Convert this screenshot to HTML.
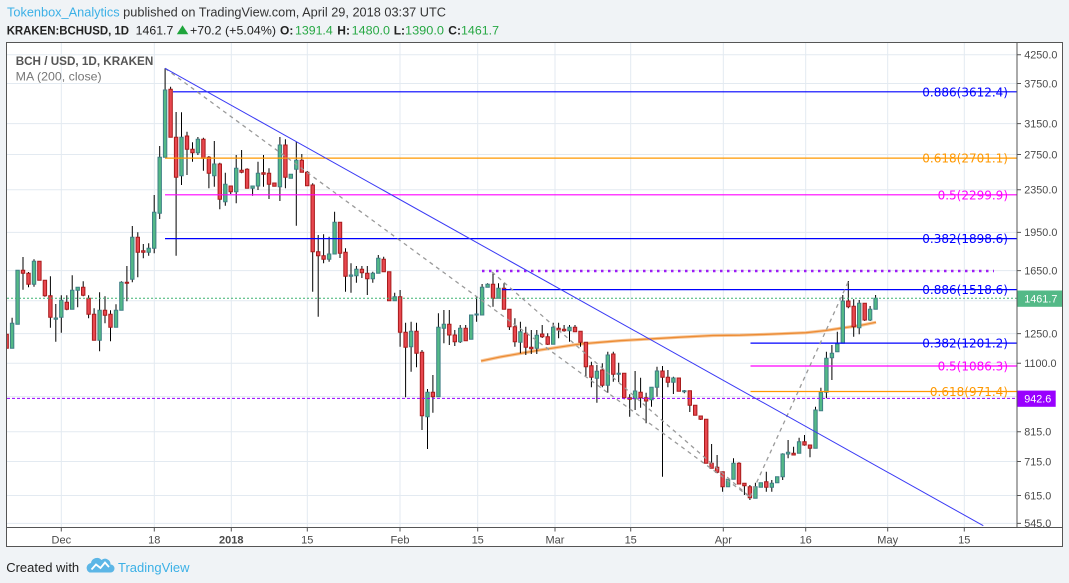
<!DOCTYPE html>
<html><head><meta charset="utf-8"><style>
html,body{margin:0;padding:0;background:#f0f3f6;}
svg{display:block;}
text{font-family:"Liberation Sans",Arial,sans-serif;}
.fib{font-family:"DejaVu Sans","Liberation Sans",sans-serif;font-size:12px;text-anchor:end;}
.pl{font-size:10.8px;fill:#4a4a4a;}
.tl{font-size:11px;fill:#4a4a4a;text-anchor:middle;}
</style></head><body>
<svg width="1069" height="583" viewBox="0 0 1069 583" xmlns="http://www.w3.org/2000/svg">
<defs>
<clipPath id="plot"><rect x="7" y="43" width="1010" height="484"/></clipPath>
<clipPath id="pax"><rect x="1017" y="43" width="46" height="484"/></clipPath>
</defs>
<rect width="1069" height="583" fill="#f0f3f6"/>
<!-- header -->
<text x="7" y="16.7" font-size="13" textLength="439" lengthAdjust="spacingAndGlyphs"><tspan fill="#3bb0e6">Tokenbox_Analytics</tspan><tspan fill="#333"> published on TradingView.com, April 29, 2018 03:37 UTC</tspan></text>
<g font-size="12" fill="#222">
<text x="6.7" y="34.3" font-weight="bold" textLength="122.3" lengthAdjust="spacingAndGlyphs">KRAKEN:BCHUSD, 1D</text>
<text x="135.7" y="34.3" textLength="37.6" lengthAdjust="spacingAndGlyphs">1461.7</text>
<polygon points="176.8,34.3 188.3,34.3 182.5,25.2" fill="#1ea53c"/>
<text x="190" y="34.3" textLength="86" lengthAdjust="spacingAndGlyphs">+70.2 (+5.04%)</text>
<text x="280" y="34.3" font-weight="bold">O:</text>
<text x="295" y="34.3" fill="#27a844" textLength="37.7" lengthAdjust="spacingAndGlyphs">1391.4</text>
<text x="337.3" y="34.3" font-weight="bold">H:</text>
<text x="351.7" y="34.3" fill="#27a844" textLength="38.3" lengthAdjust="spacingAndGlyphs">1480.0</text>
<text x="393.7" y="34.3" font-weight="bold">L:</text>
<text x="405" y="34.3" fill="#27a844" textLength="39" lengthAdjust="spacingAndGlyphs">1390.0</text>
<text x="448.3" y="34.3" font-weight="bold">C:</text>
<text x="461" y="34.3" fill="#27a844" textLength="38" lengthAdjust="spacingAndGlyphs">1461.7</text>
</g>
<!-- chart frame -->
<rect x="6.5" y="42.5" width="1056" height="504" fill="#fff"/>
<!-- grid -->
<g stroke="#e3eaf1" stroke-width="1">
<path d="M7 54.7H1017M7 83.5H1017M7 123.6H1017M7 154.5H1017M7 189.8H1017M7 232.4H1017M7 270.6H1017M7 300.7H1017M7 333.6H1017M7 363.2H1017M7 396.6H1017M7 431.8H1017M7 461.5H1017M7 495.5H1017M7 523.4H1017"/>
<path d="M61.3 43V527M154.3 43V527M231.3 43V527M307.3 43V527M400 43V527M477.7 43V527M555 43V527M630.7 43V527M723.3 43V527M805.7 43V527M887.7 43V527M964.3 43V527"/>
</g>
<g clip-path="url(#plot)">
<!-- MA 200 -->
<polyline points="481,361 500,357 520,353.5 540,350 560,347 580,344 600,342.3 620,340.7 646,339.2 680,337.2 713,335.5 740,335.2 770,334.2 806,332.7 825,330.6 840,328.3 860,325.5 876,322.3" fill="none" stroke="#f6b57a" stroke-width="3.2" stroke-opacity="0.75"/>
<polyline points="481,361 500,357 520,353.5 540,350 560,347 580,344 600,342.3 620,340.7 646,339.2 680,337.2 713,335.5 740,335.2 770,334.2 806,332.7 825,330.6 840,328.3 860,325.5 876,322.3" fill="none" stroke="#ec8c35" stroke-width="1.3"/>
<!-- wicks -->
<path fill="none" stroke="#000" stroke-width="1" d="M6.65,334.3V348.3M12.1,317.7V348.3M17.6,270.3V324.3M23,257V289.7M28.5,272V287.3M34,259.3V286.7M39.4,261.3V280.3M44.9,280.3V296.7M50.4,276.3V327.7M55.8,304V341.7M61.3,295.3V332.7M66.8,295.3V310.3M72.2,275.3V309.3M77.7,287.3V307.3M83.2,281.3V296.3M88.6,295.3V318.3M94.1,308.3V340.3M99.6,292.3V351.3M105,296.3V323.3M110.5,310.3V341.3M116,304.3V327.3M121.4,281.3V310.3M126.9,266V301.3M132.3,226V282.3M137.8,232.3V277.3M143.3,244V258.3M148.7,243.3V255.7M154.2,195V253.3M159.7,146V219M165.1,68.3V157.3M170.6,86.7V137.3M176.1,112V255.7M181.5,112.3V185M187,131.7V175M192.5,142.3V161.7M197.9,137V155M203.4,137.7V170.7M208.9,156V188.3M214.3,141V186.7M219.8,162.7V209.3M225.3,172.7V205.7M230.7,186V194M236.2,155V203.3M241.6,150V173.3M247.1,168.3V188.3M252.6,186V195.7M258,161.7V190M263.5,155V186.7M269,168.3V199M274.4,183V186.3M279.9,137V201M285.4,139.3V188.3M290.8,174.3V178.3M296.3,141.5V225.7M301.8,154V172.3M307.2,171V185.7M312.7,183.3V291.7M318.2,235V316.7M323.6,234.3V263.3M329.1,236.7V261.7M334.6,211.7V254M340,222.3V258M345.5,248.3V291.7M351,263.3V292.7M356.4,266V282.7M361.9,266V278M367.3,266V295M372.8,271.7V282.7M378.3,255V273.3M383.7,256.7V271.7M389.2,271.7V300.7M394.7,292.7V300.7M400.1,290V346.7M405.6,322.7V397.3M411.1,321.7V371.7M416.5,322.7V367.3M422,350V430M427.5,389V449M432.9,375V412.7M438.4,313.3V396.7M443.9,310V343.3M449.3,310V345M454.8,330V346M460.2,325V343M465.7,325V340.7M471.2,315V339.3M476.6,296.7V321.7M482.1,284V315M487.6,283.3V287.3M493,272.3V306.7M498.5,283.3V298.3M504,283.3V309.3M509.4,309.3V330M514.9,318.3V346.7M520.4,321.7V353.3M525.8,326.7V355M531.3,330V354M536.8,330V354M542.2,325V338M547.7,333.3V345M553.2,322.7V344.3M558.6,322.7V338.3M564.1,325V331.7M569.5,325V341.7M575,325V331.7M580.5,331.3V346.7M585.9,342.3V376M591.4,361.7V387.3M596.9,365V402.7M602.3,363.3V387.3M607.8,351.7V392.7M613.3,351.7V381.7M618.7,362.7V382M624.2,373.3V399.3M629.7,394.3V416.7M635.1,371V410M640.6,377.7V407.7M646.1,392.7V423.3M651.5,387.3V406.7M657,366.7V396.7M662.5,366V476.7M667.9,370V387.3M673.4,376.7V394M678.8,378V391.3M684.3,390V393.3M689.8,390.7V412M695.2,405.3V415.3M700.7,416V420M706.2,419.3V463.3M711.6,444V468.3M717.1,455V473.3M722.6,471.7V491.7M728,479.3V486.7M733.5,458.3V479.3M739,462.3V484M744.4,483.3V495M749.9,485V500M755.4,482.7V498.3M760.8,482.7V487.3M766.3,471.7V491.7M771.8,480V491.7M777.2,476.7V482.7M782.7,453.3V480M788.1,440V458.3M793.6,446.7V455M799.1,437.7V453.3M804.5,435V445.7M810,445V457.3M815.5,406.7V448.3M820.9,387.7V410.7M826.4,351.7V398.3M831.9,345V380M837.3,331.7V351.7M842.8,295V343.3M848.3,281V308.3M853.7,299.3V336.7M859.2,300V334.3M864.7,303.3V321M870.1,306V321M875.6,295V309.3"/>
<!-- green bodies -->
<path fill="#53b987" stroke="#3f7f86" stroke-width="1" d="M10.4 323.3h3.4V348.3h-3.4zM15.9 270.3h3.4V324.3h-3.4zM32.3 261.3h3.4V284.3h-3.4zM54.1 318h3.4V319.3h-3.4zM59.6 300.3h3.4V317.3h-3.4zM70.5 290.3h3.4V309.3h-3.4zM76 287.3h3.4V290.3h-3.4zM97.9 310.3h3.4V340.3h-3.4zM114.3 310.3h3.4V327.3h-3.4zM119.7 282.3h3.4V310.3h-3.4zM130.6 237.3h3.4V279.3h-3.4zM147 248.3h3.4V252.3h-3.4zM152.5 212.3h3.4V248.3h-3.4zM158 157.3h3.4V213.3h-3.4zM163.4 90h3.4V157.3h-3.4zM179.8 137.3h3.4V175.7h-3.4zM196.2 139.3h3.4V152.7h-3.4zM212.6 164h3.4V175.7h-3.4zM223.6 184.3h3.4V201.7h-3.4zM234.5 168.3h3.4V191.7h-3.4zM250.9 186h3.4V188.3h-3.4zM256.3 173.3h3.4V186h-3.4zM278.2 145h3.4V186.7h-3.4zM289.1 174.3h3.4V178.3h-3.4zM294.6 160.3h3.4V169.3h-3.4zM327.4 254h3.4V259.3h-3.4zM332.9 222.3h3.4V254h-3.4zM349.3 275h3.4V276.3h-3.4zM354.7 269.3h3.4V275.7h-3.4zM371.1 273.3h3.4V278.7h-3.4zM376.6 258.3h3.4V273.3h-3.4zM393 296.7h3.4V300.7h-3.4zM409.4 331.3h3.4V346.7h-3.4zM425.8 392.3h3.4V416.7h-3.4zM436.7 327.3h3.4V396.7h-3.4zM442.2 324.3h3.4V328.3h-3.4zM458.5 328.3h3.4V341.7h-3.4zM469.5 315h3.4V339.3h-3.4zM474.9 314h3.4V315h-3.4zM480.4 287.3h3.4V315h-3.4zM485.9 284.3h3.4V287.3h-3.4zM496.8 288.3h3.4V298.3h-3.4zM518.7 331.7h3.4V342.3h-3.4zM535.1 335.3h3.4V348.3h-3.4zM551.5 327.3h3.4V344.3h-3.4zM567.8 327.3h3.4V330.7h-3.4zM595.2 371.3h3.4V378.3h-3.4zM606.1 355h3.4V385.3h-3.4zM617 373.3h3.4V374.3h-3.4zM633.4 391h3.4V398.7h-3.4zM649.8 387.3h3.4V399.7h-3.4zM655.3 371h3.4V387.3h-3.4zM671.7 378h3.4V382.3h-3.4zM682.6 390.7h3.4V391.7h-3.4zM726.3 479.3h3.4V486.7h-3.4zM731.8 463.3h3.4V479.3h-3.4zM753.7 486.7h3.4V498.3h-3.4zM759.1 482.7h3.4V487.3h-3.4zM770.1 483.3h3.4V487.3h-3.4zM775.5 476.7h3.4V482.7h-3.4zM781 454h3.4V476.7h-3.4zM786.4 452.3h3.4V454h-3.4zM797.4 441.7h3.4V453.3h-3.4zM813.8 410h3.4V448.3h-3.4zM819.2 392.3h3.4V410.7h-3.4zM824.7 358.3h3.4V392.3h-3.4zM830.2 353.3h3.4V357.7h-3.4zM835.6 344h3.4V351.7h-3.4zM841.1 301h3.4V343.3h-3.4zM857.5 303.3h3.4V327.7h-3.4zM868.4 309.3h3.4V320h-3.4zM873.9 298.3h3.4V309.3h-3.4z"/>
<!-- red bodies -->
<path fill="#e8474f" stroke="#a81b1b" stroke-width="1" d="M4.95 334.3h3.4V348.3h-3.4zM21.3 270.3h3.4V273.3h-3.4zM26.8 273.3h3.4V284.3h-3.4zM37.7 261.3h3.4V280.3h-3.4zM43.2 280.3h3.4V295.7h-3.4zM48.7 295.7h3.4V317.3h-3.4zM65.1 302.3h3.4V309.3h-3.4zM81.5 287.3h3.4V295.3h-3.4zM86.9 298.3h3.4V314.3h-3.4zM92.4 314.3h3.4V340.3h-3.4zM103.3 310.3h3.4V315.3h-3.4zM108.8 314.3h3.4V327.3h-3.4zM125.2 282.3h3.4V283.3h-3.4zM136.1 237.3h3.4V252.3h-3.4zM141.6 250.7h3.4V252.3h-3.4zM168.9 89.3h3.4V137.3h-3.4zM174.4 137.3h3.4V177.3h-3.4zM185.3 136h3.4V149.3h-3.4zM190.8 149.3h3.4V152.7h-3.4zM201.7 139.3h3.4V158.3h-3.4zM207.2 157.3h3.4V173.3h-3.4zM218.1 164h3.4V199.3h-3.4zM229 186h3.4V191.7h-3.4zM239.9 170.3h3.4V172.3h-3.4zM245.4 169.3h3.4V188.3h-3.4zM261.8 172.7h3.4V174.3h-3.4zM267.3 173.3h3.4V184.3h-3.4zM272.7 183h3.4V186.3h-3.4zM283.7 145h3.4V177.3h-3.4zM300.1 160.3h3.4V172.3h-3.4zM305.5 172.3h3.4V185.7h-3.4zM311 185h3.4V251.7h-3.4zM316.5 251.7h3.4V255.7h-3.4zM321.9 255.7h3.4V259.3h-3.4zM338.3 222.3h3.4V253.3h-3.4zM343.8 252.3h3.4V276.3h-3.4zM360.2 269.3h3.4V272.7h-3.4zM365.6 273.3h3.4V278.7h-3.4zM382 259.3h3.4V271.7h-3.4zM387.5 271.7h3.4V300.7h-3.4zM398.4 296.7h3.4V332.3h-3.4zM403.9 332.3h3.4V347.3h-3.4zM414.8 331.3h3.4V353.3h-3.4zM420.3 352.3h3.4V415.7h-3.4zM431.2 392.3h3.4V396.7h-3.4zM447.6 324.3h3.4V335h-3.4zM453.1 335h3.4V341.7h-3.4zM464 328.3h3.4V340.7h-3.4zM491.3 284.3h3.4V298.3h-3.4zM502.3 288.3h3.4V309.3h-3.4zM507.7 309.3h3.4V326.7h-3.4zM513.2 326.7h3.4V341.7h-3.4zM524.1 333.3h3.4V347.3h-3.4zM529.6 347.3h3.4V348.7h-3.4zM540.5 334h3.4V336.7h-3.4zM546 336.7h3.4V344.3h-3.4zM556.9 328.3h3.4V330h-3.4zM562.4 329.3h3.4V330.7h-3.4zM573.3 327.3h3.4V331.7h-3.4zM578.8 331.3h3.4V342.3h-3.4zM584.2 342.3h3.4V366.7h-3.4zM589.7 365.7h3.4V377.3h-3.4zM600.6 370h3.4V385.3h-3.4zM611.6 354h3.4V374.3h-3.4zM622.5 373.3h3.4V397.7h-3.4zM628 397.7h3.4V399.3h-3.4zM638.9 392.3h3.4V397.7h-3.4zM644.4 397.7h3.4V401h-3.4zM660.8 371h3.4V377.3h-3.4zM666.2 377.3h3.4V382.3h-3.4zM677.1 378h3.4V391.3h-3.4zM688.1 390.7h3.4V405.3h-3.4zM693.5 405.3h3.4V415.3h-3.4zM699 416h3.4V419.3h-3.4zM704.5 419.3h3.4V463.3h-3.4zM709.9 463.3h3.4V468.3h-3.4zM715.4 467.3h3.4V472.3h-3.4zM720.9 471.7h3.4V486.7h-3.4zM737.3 463.3h3.4V484h-3.4zM742.7 483.3h3.4V485.7h-3.4zM748.2 486.7h3.4V497.7h-3.4zM764.6 481.7h3.4V487.3h-3.4zM791.9 453.3h3.4V455h-3.4zM802.8 441.7h3.4V445h-3.4zM808.3 445h3.4V448.3h-3.4zM846.6 301h3.4V306.7h-3.4zM852 306.3h3.4V326.7h-3.4zM863 303.3h3.4V320h-3.4z"/>
<!-- price lines -->
<line x1="7" y1="298.3" x2="1017" y2="298.3" stroke="#3cb371" stroke-width="1" stroke-dasharray="2,2"/>
<line x1="7" y1="398.4" x2="1017" y2="398.4" stroke="#9900ff" stroke-width="1" stroke-dasharray="3,2"/>
<line x1="482" y1="271" x2="994" y2="271" stroke="#9d1cf5" stroke-width="2.5" stroke-dasharray="2.5,4.5"/>
<!-- fib lines -->
<g stroke-width="1.2">
<line x1="173" y1="91.8" x2="1017" y2="91.8" stroke="#0000ff"/>
<line x1="165" y1="158.1" x2="1017" y2="158.1" stroke="#ff9800"/>
<line x1="165" y1="194.8" x2="1017" y2="194.8" stroke="#ff00ff"/>
<line x1="165" y1="238.6" x2="1017" y2="238.6" stroke="#0000ff"/>
<line x1="502" y1="289.6" x2="1017" y2="289.6" stroke="#0000ff"/>
<line x1="750.5" y1="343.1" x2="1017" y2="343.1" stroke="#0000ff"/>
<line x1="750.5" y1="366" x2="1017" y2="366" stroke="#ff00ff"/>
<line x1="750.5" y1="391.5" x2="1017" y2="391.5" stroke="#ff9800"/>
</g>
<!-- trend lines -->
<g fill="none" stroke="#9a9a9a" stroke-width="1.3" stroke-dasharray="4,4">
<line x1="165.1" y1="68.3" x2="750" y2="497"/>
<line x1="492" y1="272" x2="750" y2="497"/>
<line x1="750" y1="497" x2="848.3" y2="281.7"/>
</g>
<line x1="165.1" y1="68.3" x2="983.3" y2="525.7" stroke="#3a3af5" stroke-width="1"/>
<!-- fib labels -->
<text class="fib" x="1008" y="96.3" fill="#0000ff">0.886(3612.4)</text>
<text class="fib" x="1008" y="162.6" fill="#ff9800">0.618(2701.1)</text>
<text class="fib" x="1008" y="199.3" fill="#ff00ff">0.5(2299.9)</text>
<text class="fib" x="1008" y="243.1" fill="#0000ff">0.382(1898.6)</text>
<text class="fib" x="1008" y="294.1" fill="#0000ff">0.886(1518.6)</text>
<text class="fib" x="1008" y="347.6" fill="#0000ff">0.382(1201.2)</text>
<text class="fib" x="1008" y="370.5" fill="#ff00ff">0.5(1086.3)</text>
<text class="fib" x="1008" y="396" fill="#ff9800">0.618(971.4)</text>
<!-- legend -->
<text x="15.7" y="65" font-size="12" font-weight="bold" fill="#555" textLength="137.6" lengthAdjust="spacingAndGlyphs">BCH / USD, 1D, KRAKEN</text>
<text x="15.7" y="80.7" font-size="12" fill="#777" textLength="86" lengthAdjust="spacingAndGlyphs">MA (200, close)</text>
</g>
<!-- price axis -->
<g clip-path="url(#pax)">
<g stroke="#555" stroke-width="1">
<path d="M1017 54.7h4M1017 83.5h4M1017 123.6h4M1017 154.5h4M1017 189.8h4M1017 232.4h4M1017 270.6h4M1017 333.6h4M1017 363.2h4M1017 431.8h4M1017 461.5h4M1017 495.5h4M1017 523.4h4"/>
</g>
<text class="pl" x="1024.3" y="58.5">4250.0</text>
<text class="pl" x="1024.3" y="87.3">3750.0</text>
<text class="pl" x="1024.3" y="127.4">3150.0</text>
<text class="pl" x="1024.3" y="158.3">2750.0</text>
<text class="pl" x="1024.3" y="193.6">2350.0</text>
<text class="pl" x="1024.3" y="236.2">1950.0</text>
<text class="pl" x="1024.3" y="274.4">1650.0</text>
<text class="pl" x="1024.3" y="337.4">1250.0</text>
<text class="pl" x="1024.3" y="367">1100.0</text>
<text class="pl" x="1024.3" y="435.6">815.0</text>
<text class="pl" x="1024.3" y="465.3">715.0</text>
<text class="pl" x="1024.3" y="499.3">615.0</text>
<text class="pl" x="1024.3" y="527.2">545.0</text>
<rect x="1017" y="290.5" width="46" height="16.3" fill="#53b987"/>
<text x="1024.3" y="302.6" font-size="10.8" fill="#fff">1461.7</text>
<rect x="1017" y="390.6" width="38.7" height="16.2" fill="#9900ff"/>
<text x="1024.3" y="402.5" font-size="10.8" fill="#fff">942.6</text>
</g>
<!-- time axis -->
<g stroke="#555" stroke-width="1">
<path d="M61.3 527.5v4M154.3 527.5v4M231.3 527.5v4M307.3 527.5v4M400 527.5v4M477.7 527.5v4M555 527.5v4M630.7 527.5v4M723.3 527.5v4M805.7 527.5v4M887.7 527.5v4M964.3 527.5v4"/>
</g>
<text class="tl" x="61.3" y="543.4">Dec</text>
<text class="tl" x="154.3" y="543.4">18</text>
<text class="tl" x="231.3" y="543.4" font-weight="bold">2018</text>
<text class="tl" x="307.3" y="543.4">15</text>
<text class="tl" x="400" y="543.4">Feb</text>
<text class="tl" x="477.7" y="543.4">15</text>
<text class="tl" x="555" y="543.4">Mar</text>
<text class="tl" x="630.7" y="543.4">15</text>
<text class="tl" x="723.3" y="543.4">Apr</text>
<text class="tl" x="805.7" y="543.4">16</text>
<text class="tl" x="887.7" y="543.4">May</text>
<text class="tl" x="964.3" y="543.4">15</text>
<!-- frame lines -->
<g fill="none" stroke="#555" stroke-width="1">
<rect x="6.5" y="42.5" width="1056" height="504"/>
<line x1="1017" y1="42.5" x2="1017" y2="527.5"/>
<line x1="6.5" y1="527.5" x2="1062.5" y2="527.5"/>
</g>
<!-- footer -->
<text x="6.2" y="572" font-size="13" fill="#222">Created with</text>
<path d="M89.5 572.5h21a4 4 0 0 0 0-8a5.5 5.5 0 0 0-9-4.5a6 6 0 0 0-10.5 3a5 5 0 0 0-1.5 9.5z" fill="#5cb6e6"/>
<polyline points="91.5,569.5 96,564.5 100.5,568 105,562.5 109,567" fill="none" stroke="#fff" stroke-width="1.8"/>
<text x="118" y="572" font-size="13" fill="#3bb0e6">TradingView</text>
</svg>
</body></html>
